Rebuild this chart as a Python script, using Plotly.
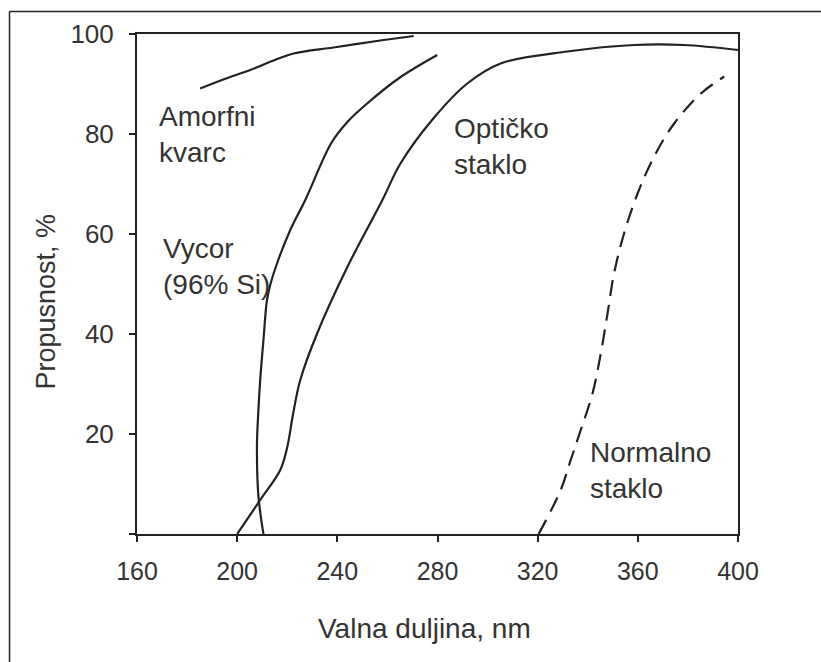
import plotly.graph_objects as go

# Data (wavelength nm, transmittance %)
amorf_x = [185.2, 195.0, 205.2, 214.0, 222.5, 238.5, 258.5, 270.5]
amorf_y = [89.1, 91.0, 92.8, 94.6, 96.1, 97.3, 98.8, 99.6]

vycor_x = [210.5, 208.5, 207.9, 208.4, 209.2, 210.5, 211.9, 213.2, 216.4, 221.2, 227.2, 237.6, 244.0, 251.9, 265.0, 279.9]
vycor_y = [0.0, 7.5, 17.5, 24.0, 30.8, 38.8, 46.8, 49.8, 54.8, 60.8, 66.8, 78.2, 82.4, 86.1, 91.3, 95.8]

opt_x = [200.0, 209.2, 217.2, 220.0, 222.4, 225.2, 232.0, 244.0, 258.0, 265.2, 278.5, 291.9, 305.2, 331.9, 358.5, 378.4, 400.0]
opt_y = [0.0, 6.8, 12.8, 17.4, 24.2, 30.8, 40.2, 53.4, 66.8, 74.1, 83.2, 90.1, 94.1, 96.5, 97.8, 97.8, 96.8]

norm_x = [320.4, 329.2, 333.2, 337.2, 341.9, 345.2, 347.9, 350.5, 354.5, 359.9, 366.5, 374.5, 385.2, 394.5]
norm_y = [0.0, 8.8, 14.8, 20.8, 28.1, 36.1, 44.1, 52.1, 60.1, 68.1, 75.5, 82.1, 88.1, 91.5]

x_ticks = [160, 200, 240, 280, 320, 360, 400]
y_ticks = [0, 20, 40, 60, 80, 100]
y_ticktext = ["", "20", "40", "60", "80", "100"]

x_title = "Valna duljina, nm"
y_title = "Propusnost, %"

labels = [
    ("Amorfni<br>kvarc", 168.4, 79.9),
    ("Vycor<br>(96% Si)", 170.0, 53.5),
    ("Optičko<br>staklo", 286.0, 77.5),
    ("Normalno<br>staklo", 340.4, 12.7),
]

LINE = "#222222"
TXT = "#333333"
FONT = "Liberation Sans, Arial, sans-serif"

fig = go.Figure()
for xs, ys, dash in [(amorf_x, amorf_y, "solid"), (vycor_x, vycor_y, "solid"),
                     (opt_x, opt_y, "solid"), (norm_x, norm_y, "16px,9px")]:
    fig.add_trace(go.Scatter(x=xs, y=ys, mode="lines",
                             line=dict(color=LINE, width=2.2, dash=dash, shape="spline", smoothing=1.0),
                             showlegend=False, hoverinfo="skip"))

for txt, lx, ly in labels:
    fig.add_annotation(x=lx, y=ly, text=txt, showarrow=False, xanchor="left", yanchor="middle",
                       align="left", font=dict(family=FONT, size=28, color=TXT), borderpad=0)

# axis titles
fig.add_annotation(xref="paper", yref="paper", x=0.479, y=-0.188, text=x_title, showarrow=False,
                   xanchor="center", yanchor="middle", font=dict(family=FONT, size=28, color=TXT))
fig.add_annotation(xref="paper", yref="paper", x=-0.1514, y=0.465, text=y_title, showarrow=False,
                   textangle=-90, xanchor="center", yanchor="middle",
                   font=dict(family=FONT, size=27, color=TXT))

# outer frame (top and left edges visible)
fig.add_shape(type="line", xref="paper", yref="paper", x0=-0.2121, x1=1.2, y0=1.045, y1=1.045,
              line=dict(color=LINE, width=1.5))
fig.add_shape(type="line", xref="paper", yref="paper", x0=-0.2121, x1=-0.2121, y0=1.045, y1=-0.3,
              line=dict(color=LINE, width=1.5))

fig.update_layout(
    width=821, height=662,
    margin=dict(l=137, r=83, t=34, b=128),
    paper_bgcolor="white", plot_bgcolor="white",
    font=dict(family=FONT, color=TXT),
)
fig.update_xaxes(range=[160, 400], tickvals=x_ticks, ticks="outside", ticklen=6, tickwidth=2,
                 tickcolor=LINE, showline=True, linecolor=LINE, linewidth=2, mirror=True,
                 showgrid=False, zeroline=False, tickfont=dict(size=25, color=TXT),
                 ticklabelstandoff=8)
fig.update_yaxes(range=[0, 100], tickvals=y_ticks, ticktext=y_ticktext, ticks="outside", ticklen=6,
                 tickwidth=2, tickcolor=LINE, showline=True, linecolor=LINE, linewidth=2, mirror=True,
                 showgrid=False, zeroline=False, tickfont=dict(size=26, color=TXT),
                 ticklabelstandoff=10)

fig.write_html("out.html")
